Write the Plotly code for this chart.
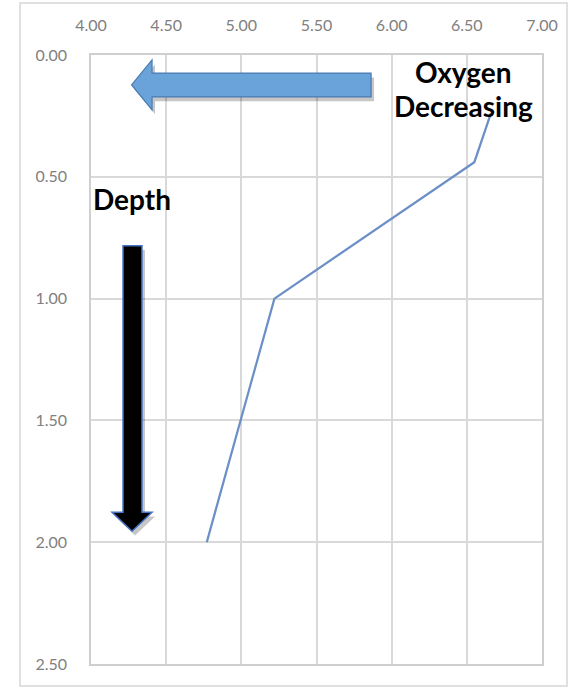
import plotly.graph_objects as go

# Dissolved oxygen profile: oxygen reading vs depth
oxygen = [6.66, 6.55, 5.22, 4.77]
depth = [0.24, 0.44, 1.00, 2.00]

x_ticks = [4.0, 4.5, 5.0, 5.5, 6.0, 6.5, 7.0]
y_ticks = [0.0, 0.5, 1.0, 1.5, 2.0, 2.5]

W, H = 570, 688
M_L, M_R, M_T, M_B = 91, 28, 55, 24
plot_w = W - M_L - M_R
plot_h = H - M_T - M_B

GRID = "#d9d9d9"
FONT = "Lato"

fig = go.Figure()
fig.add_trace(go.Scatter(
    x=oxygen, y=depth, mode="lines",
    line=dict(color="#6b8fc6", width=2.25),
    hoverinfo="skip", showlegend=False,
))


def px_to_paper_x(px):
    return (px - M_L) / plot_w


def px_to_paper_y(py):
    return (H - M_B - py) / plot_h


shapes = []
# outer chart frame
shapes.append(dict(
    type="rect", xref="paper", yref="paper",
    x0=px_to_paper_x(20), x1=px_to_paper_x(567),
    y0=px_to_paper_y(686), y1=px_to_paper_y(3),
    line=dict(color="#d6d6d6", width=1.5), fillcolor="rgba(0,0,0,0)",
    layer="below",
))


def path(points):
    return "M " + " L ".join(f"{a},{b}" for a, b in points) + " Z"


# "Oxygen decreasing" arrow pointing left
h_arrow = [(4.27, 0.123), (4.406, 0.02), (4.406, 0.074), (5.863, 0.074),
           (5.863, 0.172), (4.406, 0.172), (4.406, 0.225)]
shadow_dx, shadow_dy = 0.02, 0.018
shapes.append(dict(type="path", xref="x", yref="y",
                   path=path([(a + shadow_dx, b + shadow_dy) for a, b in h_arrow]),
                   fillcolor="rgba(0,0,0,0.22)", line=dict(width=0)))
shapes.append(dict(type="path", xref="x", yref="y", path=path(h_arrow),
                   fillcolor="#6aa3d9", line=dict(color="#4a7bb0", width=1.2)))

# "Depth" arrow pointing down
v_arrow = [(4.213, 0.783), (4.339, 0.783), (4.339, 1.877), (4.406, 1.877),
           (4.273, 1.955), (4.14, 1.877), (4.213, 1.877)]
shapes.append(dict(type="path", xref="x", yref="y",
                   path=path([(a + shadow_dx, b + shadow_dy) for a, b in v_arrow]),
                   fillcolor="rgba(0,0,0,0.22)", line=dict(width=0)))
shapes.append(dict(type="path", xref="x", yref="y", path=path(v_arrow),
                   fillcolor="#000000", line=dict(color="#4472c4", width=1.5)))

annotations = [
    dict(text="<b>Oxygen</b>", x=6.475, y=0.07, xref="x", yref="y",
         showarrow=False, font=dict(family=FONT, size=28, color="#000")),
    dict(text="<b>Decreasing</b>", x=6.475, y=0.21, xref="x", yref="y",
         showarrow=False, font=dict(family=FONT, size=28, color="#000")),
    dict(text="<b>Depth</b>", x=4.273, y=0.59, xref="x", yref="y",
         showarrow=False, font=dict(family=FONT, size=28, color="#000")),
]

fig.update_layout(
    width=W, height=H,
    margin=dict(l=M_L, r=M_R, t=M_T, b=M_B, pad=0),
    paper_bgcolor="white", plot_bgcolor="white",
    font=dict(family=FONT, size=16, color="#7f7f7f"),
    shapes=shapes, annotations=annotations,
    xaxis=dict(
        side="top", range=[4, 7], tickvals=x_ticks, tickformat=".2f",
        showgrid=True, gridcolor=GRID, gridwidth=1.5,
        showline=True, linecolor="#cfcfcf", linewidth=1.5, mirror=True,
        zeroline=False, ticks="", ticklabelstandoff=16,
        tickfont=dict(family=FONT, size=16, color="#808080"),
    ),
    yaxis=dict(
        range=[2.5, 0], tickvals=y_ticks, tickformat=".2f",
        showgrid=True, gridcolor=GRID, gridwidth=1.5,
        showline=True, linecolor="#cfcfcf", linewidth=1.5, mirror=True,
        zeroline=False, ticks="", ticklabelstandoff=19,
        tickfont=dict(family=FONT, size=16, color="#808080"),
    ),
)

fig.write_html("out.html")
